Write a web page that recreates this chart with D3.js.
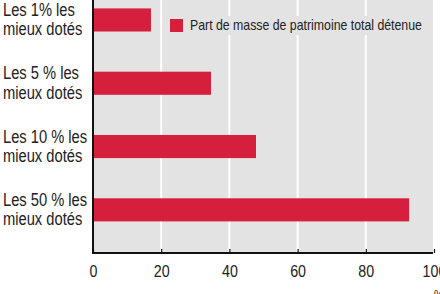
<!DOCTYPE html>
<html>
<head>
<meta charset="utf-8">
<script src="https://cdn.jsdelivr.net/npm/d3@7"></script>
<style>
  body { margin: 0; background: #fff; }
  svg { display: block; font-family: "Liberation Sans", Arimo, sans-serif; }
</style>
</head>
<body>
<div id="chart"></div>
<script>
// data
const categories = ["Les 1% les|mieux dotés", "Les 5 % les|mieux dotés", "Les 10 % les|mieux dotés", "Les 50 % les|mieux dotés"];
const values = [17, 34.6, 47.8, 92.7];
const ticks = [0, 20, 40, 60, 80, 100];
const seriesName = "Part de masse de patrimoine total détenue";

const width = 440;
const height = 294;
const margin = { top: 0, right: 7, bottom: 41, left: 93 };
const narrow = "scale(0.84,1)"; // no condensed font installed, squeeze the sans instead

const svg = d3.select("#chart")
  .append("svg")
  .attr("width", width)
  .attr("height", height);

const xScale = d3.scaleLinear()
  .domain([0, 100])
  .range([margin.left, width - margin.right + 1]);

const yScale = d3.scaleBand()
  .domain(categories)
  .range([margin.top, height - margin.bottom])
  .paddingInner(0.635)
  .paddingOuter(0.316)
  .align(0.21);

// grey plot background
svg.append("rect")
  .attr("x", margin.left)
  .attr("y", margin.top)
  .attr("width", width - margin.right - margin.left)
  .attr("height", height - margin.bottom - margin.top)
  .attr("fill", "#e3e3e3");

// white grid lines
svg.append("g")
  .selectAll("line")
  .data(ticks.filter(t => t > 0 && t < 100))
  .join("line")
  .attr("x1", d => xScale(d))
  .attr("x2", d => xScale(d))
  .attr("y1", margin.top)
  .attr("y2", height - margin.bottom)
  .attr("stroke", "#fff")
  .attr("stroke-width", 2);

// bars
svg.append("g")
  .selectAll("rect")
  .data(values)
  .join("rect")
  .attr("x", xScale(0))
  .attr("y", (d, i) => yScale(categories[i]))
  .attr("width", d => xScale(d) - xScale(0))
  .attr("height", yScale.bandwidth())
  .attr("fill", "#d51f3c");

// category labels on two lines
const labels = svg.append("g")
  .selectAll("text")
  .data(categories)
  .join("text")
  .attr("transform", d => `translate(3,${yScale(d) + yScale.bandwidth() / 2}) ${narrow}`)
  .attr("font-size", 17.5)
  .attr("fill", "#222");

labels.selectAll("tspan")
  .data(d => d.split("|"))
  .join("tspan")
  .attr("x", 0)
  .attr("dy", (d, i) => i === 0 ? "-0.22em" : "1.1em")
  .text(d => d);

// axes
const xAxis = d3.axisBottom(xScale).tickValues(ticks).tickSize(-4).tickPadding(12);
const gx = svg.append("g")
  .attr("transform", `translate(0,${height - margin.bottom})`)
  .call(xAxis);
gx.select(".domain").attr("stroke", "#111").attr("stroke-width", 2).attr("d", `M${xScale(0)},0H${width - margin.right}`);
gx.selectAll(".tick line").attr("stroke", "#111").attr("stroke-width", 1.2);
gx.selectAll(".tick text")
  .attr("font-size", 17)
  .attr("font-family", "Liberation Sans, sans-serif")
  .attr("fill", "#222")
  .attr("transform", narrow);

svg.append("line")
  .attr("x1", xScale(0))
  .attr("x2", xScale(0))
  .attr("y1", margin.top)
  .attr("y2", height - margin.bottom + 1)
  .attr("stroke", "#111")
  .attr("stroke-width", 2);

// unit under the axis end
svg.append("text")
  .attr("transform", `translate(434,299) ${narrow}`)
  .attr("font-size", 13)
  .attr("fill", "#222")
  .text("%");

// legend
const legend = svg.append("g").attr("transform", "translate(170,19)");
legend.append("rect")
  .attr("x", -4)
  .attr("y", -3)
  .attr("width", 258)
  .attr("height", 19)
  .attr("fill", "#e3e3e3");
legend.append("rect")
  .attr("width", 13)
  .attr("height", 13)
  .attr("fill", "#d51f3c");
legend.append("text")
  .attr("transform", `translate(20,6.5) scale(0.88,1)`)
  .attr("dy", "0.35em")
  .attr("font-size", 14)
  .attr("fill", "#222")
  .text(seriesName);
</script>
</body>
</html>
